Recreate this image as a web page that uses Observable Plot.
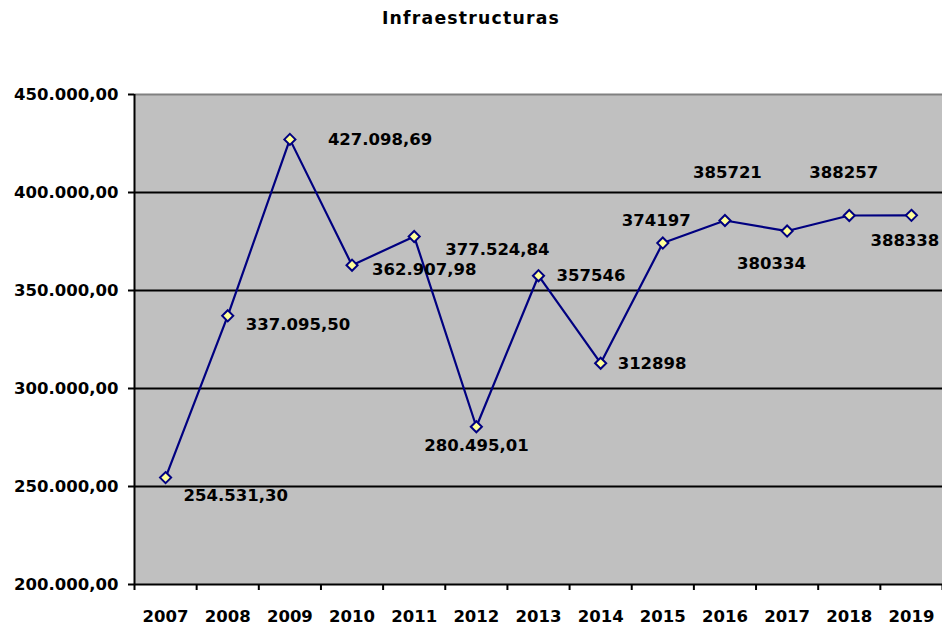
<!DOCTYPE html>
<html><head><meta charset="utf-8">
<script src="https://cdn.jsdelivr.net/npm/d3@7"></script>
<script src="https://cdn.jsdelivr.net/npm/@observablehq/plot@0.6"></script>
<style>
body{margin:0;background:#fff;}
#title{width:942px;height:40px;box-sizing:border-box;padding-top:8px;line-height:20px;text-align:center;font-family:"DejaVu Sans";font-weight:bold;font-size:17.3px;letter-spacing:1.2px;color:#000;}
</style></head><body>
<div id="title">Infraestructuras</div>
<div id="chart"></div>
<script>
const years = [2007, 2008, 2009, 2010, 2011, 2012, 2013, 2014, 2015, 2016, 2017, 2018, 2019];
const values = [254531.30, 337095.50, 427098.69, 362907.98, 377524.84, 280495.01, 357546, 312898, 374197, 385721, 380334, 388257, 388338];
const labelText = ["254.531,30", "337.095,50", "427.098,69", "362.907,98", "377.524,84", "280.495,01", "357546", "312898", "374197", "385721", "380334", "388257", "388338"];
const labelDx = [18, 18, 38, 20, 31, -52, 18, 17, -41, -32, -50, -40, -41];
const labelDy = [18, 8.5, 0, 5, 13.5, 19, 0, 0, -22.5, -48, 32.5, -43, 25.5];
const yTicks = [200000, 250000, 300000, 350000, 400000, 450000];
const gridValues = [250000, 300000, 350000, 400000];

const data = years.map((year, i) => ({year, value: values[i], label: labelText[i], dx: labelDx[i], dy: labelDy[i]}));
const bounds = [years[0] - 0.5, ...years.map(y => y + 0.5)];
const es = d3.formatLocale({decimal: ",", thousands: ".", grouping: [3], currency: ["", " €"]});
const fmt = es.format(",.2f");

const labelMarks = data.map(d => Plot.text([d], {
  x: "year", y: "value", text: "label",
  textAnchor: "start", dx: d.dx, dy: d.dy, fill: "#000"
}));

const chart = Plot.plot({
  width: 942,
  height: 588,
  marginTop: 54,
  marginBottom: 44,
  marginLeft: 134,
  marginRight: 0,
  style: {fontFamily: "DejaVu Sans", fontSize: "16.5px", fontWeight: "bold", color: "#000", background: "#fff"},
  x: {type: "linear", domain: [bounds[0], bounds[bounds.length - 1]], label: null},
  y: {domain: [200000, 450000], label: null},
  marks: [
    Plot.frame({fill: "#c0c0c0", stroke: "none"}),
    Plot.ruleY(gridValues, {stroke: "#000", strokeWidth: 2}),
    Plot.ruleY([450000], {stroke: "#808080", strokeWidth: 2}),
    Plot.ruleY([200000], {stroke: "#000", strokeWidth: 2}),
    Plot.ruleX([bounds[0]], {stroke: "#000", strokeWidth: 2}),
    Plot.axisY({ticks: yTicks, tickFormat: fmt, tickSize: 6, tickPadding: 10, strokeWidth: 2, label: null}),
    Plot.axisX({ticks: bounds, tickFormat: () => "", tickSize: 6, strokeWidth: 2, label: null}),
    Plot.axisX({ticks: years, tickFormat: d => String(d), tickSize: 0, tickPadding: 26, label: null}),
    Plot.line(data, {x: "year", y: "value", stroke: "#000080", strokeWidth: 2.2}),
    Plot.dot(data, {x: "year", y: "value", symbol: "diamond2", r: 5, fill: "#ffff99", stroke: "#000080", strokeWidth: 2}),
    ...labelMarks
  ]
});
document.getElementById("chart").appendChild(chart);
</script>
</body></html>
